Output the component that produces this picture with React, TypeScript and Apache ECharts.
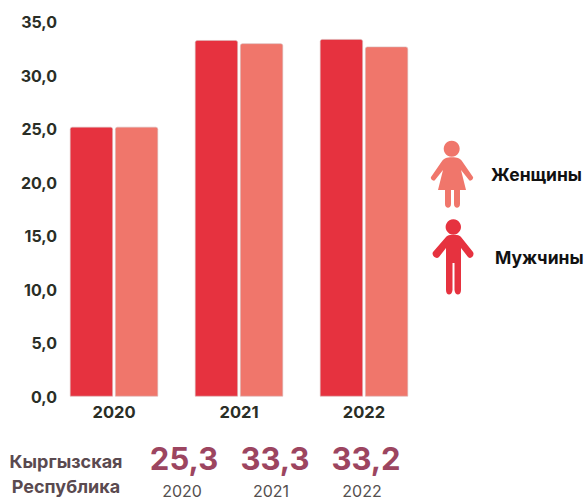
import React, { useEffect, useRef } from "react";
import * as echarts from "echarts";

const categories = ["2020", "2021", "2022"];
const women = [25.2, 33.3, 33.4];
const men = [25.2, 33.0, 32.7];
const seriesNames = ["Женщины", "Мужчины"];
const yTicksMax = 35;
const summaryLabel = ["Кыргызская", "Республика"];
const summaryValues = ["25,3", "33,3", "33,2"];
const summaryYears = ["2020", "2021", "2022"];

const RED = "#E6323F";
const PINK = "#F0766B";
const DARK = "#2A2E26";
const FONT = "Inter";

const femaleIcon =
  "M446 158 C448 157 456 157 458 158 C461 159 462 161 464 164 L473 177 C474 179 470 182 469 180 L461 170 L466 190 L460 190 L460 204 C460 209 454 209 454 204 L454 190 L451 190 L451 204 C451 209 445 209 445 204 L445 190 L438 190 L443 170 L435 180 C434 182 430 179 431 177 L440 164 C442 161 443 159 446 158 Z";
const maleIcon =
  "M450 235 L457 235 C459 235 460 236 461 237 L473 252 C475 255 471 260 468 257 L461 248 L461 290 C461 296 455 296 454.5 290 L454.5 263 L452.5 263 L452.5 290 C452 296 446 296 446 290 L446 248 L439 257 C436 260 431 255 433 252 L446 237 C447 236 448 235 450 235 Z";

echarts.graphic.registerShape("femaleIcon", echarts.graphic.extendPath(femaleIcon, {}));
echarts.graphic.registerShape("maleIcon", echarts.graphic.extendPath(maleIcon, {}));

export default function App() {
  const ref = useRef<HTMLDivElement>(null);
  useEffect(() => {
    const chart = echarts.init(ref.current!, undefined, { renderer: "svg" });
    const valueCenters = [184, 275, 366];
    const yearCenters = [182, 271, 362];
    chart.setOption({
      animation: false,
      backgroundColor: "#fff",
      grid: { left: 51.5, right: 157.5, top: 22, bottom: 102.5 },
      xAxis: {
        type: "category",
        data: categories,
        axisLine: { show: false },
        axisTick: { show: false },
        axisLabel: { color: DARK, fontFamily: FONT, fontWeight: 700, fontSize: 16.5, margin: 7 },
      },
      yAxis: {
        type: "value",
        min: 0,
        max: yTicksMax,
        interval: 5,
        splitLine: { show: false },
        axisLine: { show: false },
        axisTick: { show: false },
        axisLabel: {
          color: DARK,
          fontFamily: FONT,
          fontWeight: 700,
          fontSize: 16,
          margin: -5.5,
          align: "right",
          padding: [0, 0, 2, 0],
          formatter: (v: number) => v.toFixed(1).replace(".", ","),
        },
      },
      series: [
        {
          name: seriesNames[0],
          type: "bar",
          data: women,
          barWidth: 43,
          barGap: "5%",
          itemStyle: { color: RED, borderColor: "#d9b8b8", borderWidth: 0.6, borderRadius: [2, 2, 0, 0] },
        },
        {
          name: seriesNames[1],
          type: "bar",
          data: men,
          barWidth: 43,
          itemStyle: { color: PINK, borderColor: "#d9b8b8", borderWidth: 0.6, borderRadius: [2, 2, 0, 0] },
        },
      ],
      graphic: [
        { type: "circle", shape: { cx: 451.7, cy: 148.7, r: 8 }, style: { fill: PINK } },
        { type: "femaleIcon", x: 0, y: 0, style: { fill: PINK } },
        { type: "circle", shape: { cx: 453.3, cy: 227, r: 7.7 }, style: { fill: RED } },
        { type: "maleIcon", x: 0, y: 0, style: { fill: RED } },
        {
          type: "text",
          x: 491,
          y: 174,
          style: { text: seriesNames[0], fill: "#111", font: `700 17.5px ${FONT}`, textVerticalAlign: "middle" },
        },
        {
          type: "text",
          x: 495,
          y: 257,
          style: { text: seriesNames[1], fill: "#111", font: `700 17.5px ${FONT}`, textVerticalAlign: "middle" },
        },
        ...summaryLabel.map((t, i) => ({
          type: "text",
          x: 66,
          y: 461 + i * 25,
          style: {
            text: t,
            fill: "#5A4A50",
            font: `700 18px ${FONT}`,
            textAlign: "center",
            textVerticalAlign: "middle",
          },
        })),
        ...summaryValues.map((t, i) => ({
          type: "text",
          x: valueCenters[i],
          y: 458,
          style: {
            text: t,
            fill: "#9C4560",
            font: `700 31px ${FONT}`,
            textAlign: "center",
            textVerticalAlign: "middle",
          },
        })),
        ...summaryYears.map((t, i) => ({
          type: "text",
          x: yearCenters[i],
          y: 490.5,
          style: {
            text: t,
            fill: "#55504f",
            font: `400 16px ${FONT}`,
            textAlign: "center",
            textVerticalAlign: "middle",
          },
        })),
      ],
    });
    return () => chart.dispose();
  }, []);
  return <div ref={ref} style={{ position: "fixed", left: 0, top: 0, width: 584, height: 499 }} />;
}
